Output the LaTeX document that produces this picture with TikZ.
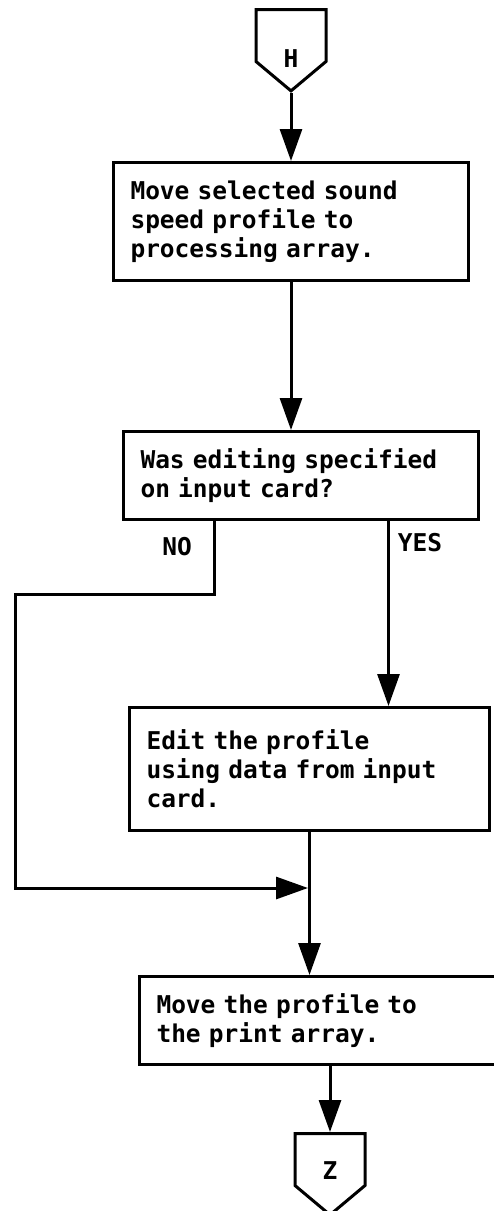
\documentclass[tikz,border=0pt]{standalone}
\usepackage{fontspec}
\setmonofont{DejaVu Sans Mono}
\usetikzlibrary{positioning,arrows.meta,shapes.symbols}
% typewriter lettering with a fixed word space
\protected\def\cardfont{\ttfamily\bfseries\fontsize{24.5}{29}\selectfont\spaceskip=0.602em\relax}
\tikzset{
every node/.style={font=\cardfont},
procbox/.style={draw, line width=3pt, anchor=north west, align=left, inner xsep=17pt, inner ysep=0pt},
offpage/.style={draw, line width=3pt, signal, signal to=south, signal pointer angle=100, minimum width=70pt, minimum height=52pt, inner sep=0pt, anchor=north},
flowline/.style={line width=3pt},
flow/.style={flowline, -{Triangle[length=32pt,width=22pt]}}
}

\begin{document}
\begin{tikzpicture}[x=1pt,y=-1pt]
\useasboundingbox (0,0) rectangle (493,1211);

% connectors in and out, letter sits low in the pentagon
\node[offpage, label={[yshift=-23pt]center:H}] (H) at (291,8) {};
\node[offpage, label={[yshift=-11pt]center:Z}] (Z) at (330,1132) {};

% process boxes
\node[procbox, text width=321pt, minimum height=118pt] (move) at (112,161) {Move selected sound\\speed profile to\\processing array.};
\node[procbox, text width=321pt, minimum height=88pt] (ask) at (122,430) {Was editing specified\\on input card?};
\node[procbox, text width=326pt, minimum height=123pt] (edit) at (128,706) {Edit the profile\\using data from input\\card.};
\node[procbox, text width=336pt, minimum height=88pt] (print) at (138,975) {Move the profile to\\the print array.};

% branch labels
\node (no) at (177,547) {NO};
\node (yes) at (420,543) {YES};

\coordinate (nofoot) at ([xshift=-86.5pt]ask.south);
\coordinate (yesfoot) at ([xshift=87.5pt]ask.south);
\coordinate (nobend) at (15,594);
\coordinate (merge) at (308,888);

\draw[flow] (H.south) -- (H.south |- move.north);
\draw[flow] (H.south |- move.south) -- (H.south |- ask.north);
\draw[flow] (yesfoot) -- (yesfoot |- edit.north);
\draw[flow] (nofoot) |- (nobend) |- (merge);
\draw[flow] (edit.south) -- (edit.south |- print.north);
\draw[flow] (Z.north |- print.south) -- (Z.north);
\end{tikzpicture}
\end{document}
